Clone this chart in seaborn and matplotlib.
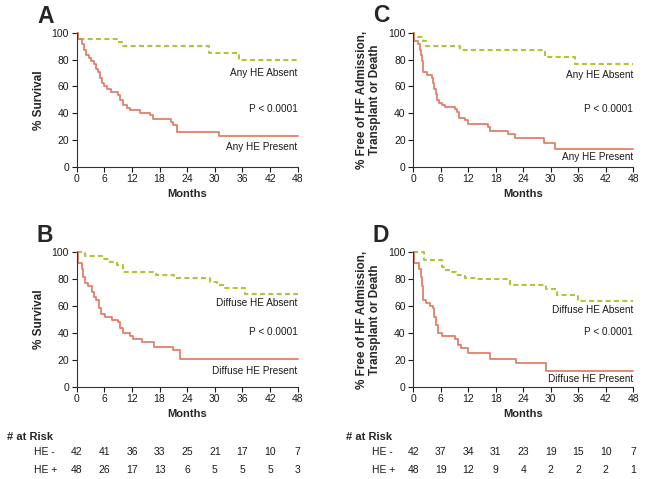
import numpy as np
import pandas as pd
import matplotlib
matplotlib.use('agg')
import seaborn as sns
import matplotlib.pyplot as plt
from matplotlib.transforms import blended_transform_factory

# ---- data ----
month_ticks = [0, 6, 12, 18, 24, 30, 36, 42, 48]

A_absent_t = [0, 0.2, 9.0, 10.0, 28.8, 35.2]
A_absent_s = [100, 95.2, 92.9, 90.5, 84.8, 79.5]
A_present_t = [0, 0.3, 1.2, 1.6, 2.1, 2.6, 3.2, 3.7, 4.2, 4.7, 5.0, 5.4, 5.9, 6.5, 7.4,
               9.0, 9.5, 10.0, 11.0, 11.6, 13.7, 16.0, 16.6, 20.4, 21.0, 21.7, 30.8]
A_present_s = [100, 95.8, 91.7, 87.5, 83.3, 81.2, 79.1, 77.0, 72.9, 70.8, 66.6, 62.4, 60.3, 58.2, 56.1,
               54.0, 50.0, 45.8, 43.7, 42.6, 40.5, 38.4, 35.9, 33.6, 31.3, 26.0, 22.8]

C_absent_t = [0, 0.1, 2.2, 2.8, 10.1, 28.7, 35.3]
C_absent_s = [100, 96.8, 94.3, 90.3, 87.3, 82.3, 76.6]
C_present_t = [0, 0.2, 1.1, 1.45, 1.7, 1.9, 2.2, 2.9, 4.0, 4.35, 4.6, 4.9, 5.2, 5.7, 6.2, 6.9,
               9.1, 9.6, 10.0, 11.2, 12.0, 16.3, 16.7, 20.7, 22.1, 28.6, 31.0]
C_present_s = [100, 93.8, 91.7, 87.5, 83.3, 79.2, 70.8, 68.7, 66.7, 62.5, 58.3, 54.2, 50.0, 47.9, 45.8, 44.5,
               43.2, 40.8, 36.5, 34.8, 32.2, 29.9, 26.8, 24.4, 21.7, 17.7, 13.2]

B_absent_t = [0, 1.8, 5.5, 7.2, 8.8, 10.1, 17.2, 21.2, 29.0, 30.4, 31.8, 36.5]
B_absent_s = [100, 97.6, 95.2, 92.9, 90.5, 85.7, 83.3, 80.6, 77.6, 75.4, 73.1, 69.0]
B_present_t = [0, 0.2, 1.1, 1.3, 1.8, 2.5, 3.3, 3.8, 4.3, 4.9, 5.2, 6.2, 7.6, 9.0, 9.4,
               10.0, 11.6, 12.3, 14.1, 16.7, 21.0, 22.5]
B_present_s = [100, 91.7, 87.5, 81.3, 77.1, 75.0, 70.8, 66.7, 64.6, 58.3, 54.2, 52.1, 50.0, 47.9, 43.7,
               39.6, 37.5, 35.4, 33.3, 29.2, 27.1, 20.8]

D_absent_t = [0, 2.3, 6.2, 7.0, 8.0, 9.4, 11.2, 14.0, 21.0, 29.0, 31.3, 36.0]
D_absent_s = [100, 94.1, 89.3, 86.9, 85.0, 83.0, 81.0, 79.8, 76.0, 72.8, 68.2, 64.0]
D_present_t = [0, 0.2, 1.3, 1.6, 1.8, 2.2, 2.75, 3.6, 4.2, 4.5, 4.9, 5.4, 6.2, 9.0, 9.8,
               10.5, 12.0, 16.7, 22.3, 29.0]
D_present_s = [100, 91.7, 87.5, 81.3, 75.0, 64.6, 62.5, 60.4, 58.3, 52.1, 45.8, 39.6, 37.5, 35.4, 31.2,
               29.1, 25.0, 20.8, 17.5, 11.7]

risk_left_neg = [42, 41, 36, 33, 25, 21, 17, 10, 7]
risk_left_pos = [48, 26, 17, 13, 6, 5, 5, 5, 3]
risk_right_neg = [42, 37, 34, 31, 23, 19, 15, 10, 7]
risk_right_pos = [48, 19, 12, 9, 4, 2, 2, 2, 1]

green = '#a9c83a'
red = '#e0806a'

sns.set_theme(style="ticks")
plt.rcParams['font.family'] = ['Liberation Sans', 'DejaVu Sans']

W, H = 649, 479
fig = plt.figure(figsize=(W / 100, H / 100), dpi=100)


def px_axes(x0, y0, x1, y1):
    return fig.add_axes([x0 / W, 1 - y1 / H, (x1 - x0) / W, (y1 - y0) / H])


def km(ax, t, s, **kw):
    df = pd.DataFrame({'t': t + [48], 's': s + [s[-1]]})
    sns.lineplot(data=df, x='t', y='s', ax=ax, estimator=None, drawstyle='steps-post',
                 clip_on=False, **kw)


def panel(ax, absent, present, labels, ylabel):
    km(ax, absent[0], absent[1], color=green, lw=1.5, linestyle=(0, (2.4, 1.6)))
    km(ax, present[0], present[1], color=red, lw=1.3)
    ax.set_xlim(0, 48)
    ax.set_ylim(0, 100)
    ax.set_xticks(month_ticks)
    ax.set_yticks([0, 20, 40, 60, 80, 100])
    ax.tick_params(labelsize=7.5, length=3.5, width=0.8, pad=2, colors='#1a1a1a')
    for sp in ['left', 'bottom']:
        ax.spines[sp].set_color('#333333')
        ax.spines[sp].set_linewidth(0.8)
    sns.despine(ax=ax)
    ax.set_xlabel('Months', fontsize=8, fontweight='bold', labelpad=3)
    ax.set_ylabel(ylabel, fontsize=8.5, fontweight='bold', labelpad=5, linespacing=1.1)
    for txt, y in labels:
        ax.text(48, y, txt, ha='right', va='center', fontsize=7.2, color='#1a1a1a')


axA = px_axes(76.7, 33, 297.7, 166.7)
axC = px_axes(413.3, 33, 633.3, 166.7)
axB = px_axes(76.7, 252.3, 297.7, 386.7)
axD = px_axes(413.3, 252.3, 633.3, 386.7)

yl2 = '% Free of HF Admission,\nTransplant or Death'
panel(axA, (A_absent_t, A_absent_s), (A_present_t, A_present_s),
      [('Any HE Absent', 70.3), ('P < 0.0001', 43.2), ('Any HE Present', 14.5)], '% Survival')
panel(axC, (C_absent_t, C_absent_s), (C_present_t, C_present_s),
      [('Any HE Absent', 68.6), ('P < 0.0001', 43), ('Any HE Present', 7.5)], yl2)
panel(axB, (B_absent_t, B_absent_s), (B_present_t, B_present_s),
      [('Diffuse HE Absent', 62), ('P < 0.0001', 41), ('Diffuse HE Present', 12)], '% Survival')
panel(axD, (D_absent_t, D_absent_s), (D_present_t, D_present_s),
      [('Diffuse HE Absent', 57), ('P < 0.0001', 41), ('Diffuse HE Present', 5.7)], yl2)

for letter, x, y in [('A', 37, 23), ('C', 373, 22), ('B', 36, 242), ('D', 373, 242)]:
    fig.text(x / W, 1 - y / H, letter, fontsize=16.5, fontweight='bold', ha='left', va='baseline')

# at-risk tables
for ax, neg, pos, xl in [(axB, risk_left_neg, risk_left_pos, 7), (axD, risk_right_neg, risk_right_pos, 346)]:
    fig.text(xl / W, 1 - 437.5 / H, '# at Risk', fontsize=8, fontweight='bold', ha='left', va='center')
    fig.text((xl + 26.5) / W, 1 - 452.3 / H, 'HE -', fontsize=7.5, ha='left', va='center', color='#1a1a1a')
    fig.text((xl + 26.5) / W, 1 - 470 / H, 'HE +', fontsize=7.5, ha='left', va='center', color='#1a1a1a')
    tr = blended_transform_factory(ax.transData, fig.transFigure)
    for m, a, b in zip(month_ticks, neg, pos):
        ax.text(m, 1 - 452.3 / H, str(a), transform=tr, ha='center', va='center', fontsize=7.5, color='#1a1a1a')
        ax.text(m, 1 - 470 / H, str(b), transform=tr, ha='center', va='center', fontsize=7.5, color='#1a1a1a')

fig.savefig('out.png', dpi=100, facecolor='white')
